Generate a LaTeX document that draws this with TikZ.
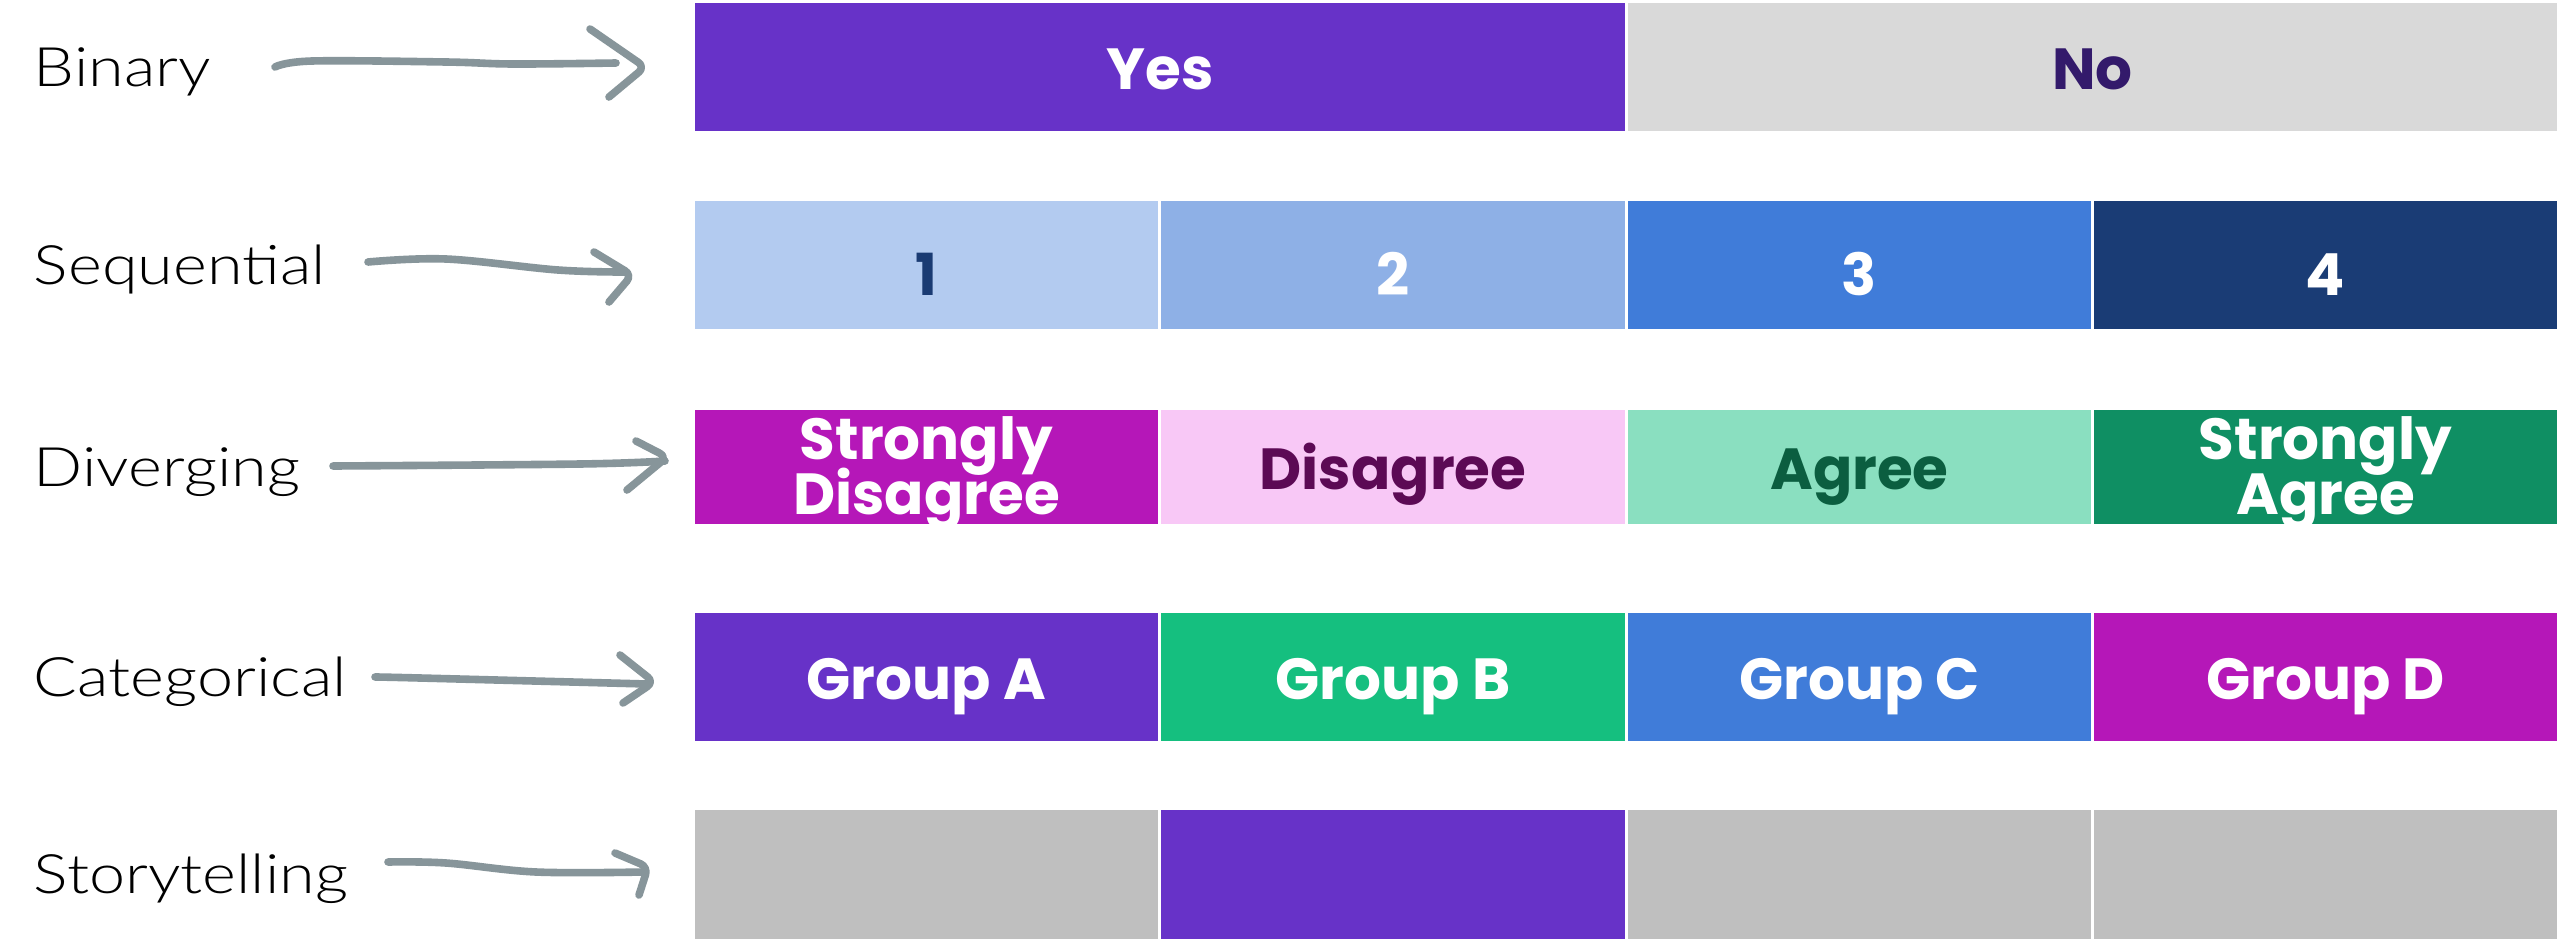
\documentclass[tikz,border=0pt]{standalone}
\usepackage{fontspec}
\newfontfamily\barfont{Poppins}
\newfontfamily\labfont{Lato Light}[FakeStretch=1.19]
\newcommand\barsetup{\barfont\bfseries\fontsize{14.5pt}{13.75pt}\selectfont\lineskiplimit=-30pt\relax\lineskip=0pt\relax}
\definecolor{cpurple}{HTML}{6732C8}
\definecolor{cnogrey}{HTML}{D9D9D9}
\definecolor{cnotext}{HTML}{331A6B}
\definecolor{cseqa}{HTML}{B3CBF0}
\definecolor{cseqatext}{HTML}{1A3B73}
\definecolor{cseqb}{HTML}{8EB0E6}
\definecolor{cseqc}{HTML}{407CD9}
\definecolor{cseqd}{HTML}{1A3C75}
\definecolor{csd}{HTML}{B517B8}
\definecolor{cdis}{HTML}{F8C8F6}
\definecolor{cdistext}{HTML}{5C0A55}
\definecolor{cagr}{HTML}{8ADFC0}
\definecolor{cagrtext}{HTML}{0B5E40}
\definecolor{csa}{HTML}{0F8F63}
\definecolor{cgrpb}{HTML}{15BF7F}
\definecolor{cstory}{HTML}{BFBFBF}
\definecolor{carrow}{HTML}{87959A}
\begin{document}
\begin{tikzpicture}[x=0.25pt,y=-0.25pt,
  bar/.style={anchor=north west, inner sep=0pt, outer sep=0pt,
    minimum height=128*0.25pt, align=center,
    font=\barsetup,
    text height=11pt, text depth=0pt},
  twoline/.style={text height=23.5pt, text depth=0pt},
  digit/.style={text height=15pt, text depth=0pt},
  wide/.style={minimum width=930*0.25pt},
  col/.style={minimum width=463*0.25pt},
  lab/.style={anchor=west, inner sep=0pt, outer sep=0pt,
    font=\labfont\fontsize{13.6pt}{16pt}\selectfont,
    text height=9.75pt, text depth=0pt},
  arrowline/.style={draw=carrow, line width=1.9pt, line cap=round, line join=round},
  chev/.style={arrowline, rounded corners=2pt}
]
\useasboundingbox (0,0) rectangle (2560,942);
\fill[white] (0,0) rectangle (2560,942);

% Binary
\node[bar, wide, fill=cpurple, text=white] (yes) at (695,3) {Yes};
\node[bar, minimum width=929*0.25pt, fill=cnogrey, text=cnotext] (no) at (1628,3) {No};

% Sequential
\node[bar, digit, col, fill=cseqa, text=cseqatext] (s1) at (695,201) {1};
\node[bar, digit, minimum width=464*0.25pt, fill=cseqb, text=white] (s2) at (1161,201) {2};
\node[bar, digit, col, fill=cseqc, text=white] (s3) at (1628,201) {3};
\node[bar, digit, col, fill=cseqd, text=white] (s4) at (2094,201) {4};

% Diverging
\node[bar, twoline, col, minimum height=114*0.25pt, fill=csd, text=white] (d1) at (695,410) {Strongly\\Disagree};
\node[bar, minimum width=464*0.25pt, minimum height=114*0.25pt, fill=cdis, text=cdistext] (d2) at (1161,410) {Disagree};
\node[bar, col, minimum height=114*0.25pt, fill=cagr, text=cagrtext] (d3) at (1628,410) {Agree};
\node[bar, twoline, col, minimum height=114*0.25pt, fill=csa, text=white] (d4) at (2094,410) {Strongly\\Agree};

% Categorical
\node[bar, col, fill=cpurple, text=white] (c1) at (695,613) {Group A};
\node[bar, minimum width=464*0.25pt, fill=cgrpb, text=white] (c2) at (1161,613) {Group B};
\node[bar, col, fill=cseqc, text=white] (c3) at (1628,613) {Group C};
\node[bar, col, fill=csd, text=white] (c4) at (2094,613) {Group D};

% Storytelling
\node[bar, col, minimum height=129*0.25pt, fill=cstory] (t1) at (695,810) {};
\node[bar, minimum width=464*0.25pt, minimum height=129*0.25pt, fill=cpurple] (t2) at (1161,810) {};
\node[bar, col, minimum height=129*0.25pt, fill=cstory] (t3) at (1628,810) {};
\node[bar, col, minimum height=129*0.25pt, fill=cstory] (t4) at (2094,810) {};

% Labels
\node[lab] (lbin) at (34,67) {Binary};
\node[lab] (lseq) at (34,265) {Sequential};
\node[lab] (ldiv) at (34,467) {Diverging};
\node[lab] (lcat) at (34,677) {Categorical};
\node[lab] (lsto) at (34,874) {Storytelling};

% Arrow end points
\coordinate (abin) at (275,67);
\coordinate (abinE) at (645,67);
\coordinate (aseq) at (368,262);
\coordinate (aseqE) at (632,275);
\coordinate (adiv) at (333,466);
\coordinate (adivE) at (667,457);
\coordinate (acat) at (375,677);
\coordinate (acatE) at (654,682);
\coordinate (asto) at (388,862);
\coordinate (astoE) at (648,867);

% Binary arrow
\draw[arrowline] plot[smooth, tension=0.6] coordinates {(abin) (312,61) (446,62) (513,64) (616,63)};
\draw[chev] (590,29) -- (abinE) -- (609,97);
% Sequential arrow
\draw[arrowline] plot[smooth, tension=0.6] coordinates {(aseq) (446,259) (558,270) (625,272)};
\draw[chev] (594,252) -- (aseqE) -- (609,302);
% Diverging arrow
\draw[arrowline] plot[smooth, tension=0.6] coordinates {(adiv) (580,464) (665,461)};
\draw[chev] (636,441) -- (adivE) -- (627,490);
% Categorical arrow
\draw[arrowline] plot[smooth, tension=0.6] coordinates {(acat) (420,678) (647,684)};
\draw[chev] (620,655) -- (acatE) -- (623,703);
% Storytelling arrow
\draw[arrowline] plot[smooth, tension=0.6] coordinates {(asto) (446,863) (536,872) (643,872)};
\draw[chev] (615,853) -- (astoE) -- (639,895);
\end{tikzpicture}
\end{document}
